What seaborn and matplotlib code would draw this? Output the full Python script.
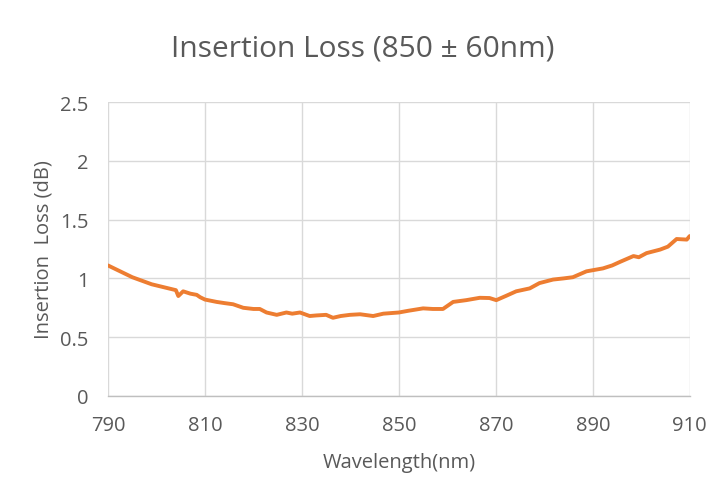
import numpy as np
import pandas as pd
import matplotlib
matplotlib.use("Agg")
import matplotlib.pyplot as plt
import seaborn as sns

wavelength = [790, 792, 795, 797, 799, 801, 803, 804, 804.5, 805.5, 807, 808.3, 809, 810,
              812.4, 814, 815.8, 817.9, 820, 821.3, 822.7, 824.8, 826.8, 828, 829.6, 831.6,
              833, 835, 836.4, 838, 839.9, 842, 844.7, 846.8, 850, 852, 855, 857, 859.1,
              861.2, 863.9, 866.7, 868.7, 870.1, 872.2, 874.2, 877, 879, 881.8, 884, 885.9,
              888.7, 892.1, 894, 895.6, 898.4, 899.5, 901.1, 903.9, 905.5, 907.3, 909.4, 910]
loss_db = [1.11, 1.07, 1.01, 0.98, 0.95, 0.93, 0.91, 0.90, 0.85, 0.89, 0.87, 0.86, 0.84, 0.82,
           0.80, 0.79, 0.78, 0.75, 0.74, 0.74, 0.71, 0.69, 0.71, 0.70, 0.71, 0.68,
           0.685, 0.69, 0.665, 0.68, 0.69, 0.695, 0.68, 0.70, 0.71, 0.725, 0.745, 0.74, 0.74,
           0.80, 0.815, 0.835, 0.833, 0.815, 0.853, 0.89, 0.915, 0.96, 0.99, 1.00, 1.01,
           1.06, 1.085, 1.11, 1.14, 1.19, 1.18, 1.215, 1.245, 1.27, 1.335, 1.33, 1.36]
x_ticks = [790, 810, 830, 850, 870, 890, 910]
y_ticks = [0, 0.5, 1, 1.5, 2, 2.5]

df = pd.DataFrame({"wavelength": wavelength, "loss": loss_db})

sns.set_theme(style="white")
plt.rcParams["font.family"] = ["Open Sans", "Noto Sans CJK SC", "DejaVu Sans"]

grigio_testo = "#595959"

fig = plt.figure(figsize=(7.26, 5.02), dpi=100)
ax = fig.add_axes([0.1488, 0.2092, 0.8012, 0.5856])

sns.lineplot(data=df, x="wavelength", y="loss", color="#ED7D31", linewidth=2.8, ax=ax)

ax.set_xlim(790, 910)
ax.set_ylim(0, 2.5)
ax.set_xticks(x_ticks)
ax.set_yticks(y_ticks)
ax.set_yticklabels(["0", "0.5", "1", "1.5", "2", "2.5"])
ax.grid(True, color="#d9d9d9", linewidth=1.0)
ax.set_axisbelow(True)
for lato in ["top", "right", "left"]:
    ax.spines[lato].set_visible(False)
ax.spines["bottom"].set_color("#bfbfbf")
ax.spines["bottom"].set_linewidth(1.0)
ax.tick_params(length=0, labelsize=14.5, labelcolor=grigio_testo)
ax.tick_params(axis="x", pad=14)
ax.tick_params(axis="y", pad=14)

ax.set_xlabel("Wavelength(nm)", fontsize=14.5, color=grigio_testo, labelpad=12)
ax.set_ylabel("Insertion  Loss (dB)", fontsize=14.5, color=grigio_testo, labelpad=5)

fig.text(0.5, 0.903, "Insertion Loss (850 \u00b1 60nm)", ha="center", va="center",
         fontsize=21.5, color=grigio_testo,
         family=["Open Sans", "Noto Sans CJK SC", "DejaVu Sans"])

fig.savefig("out.png", dpi=100)
plt.close()
